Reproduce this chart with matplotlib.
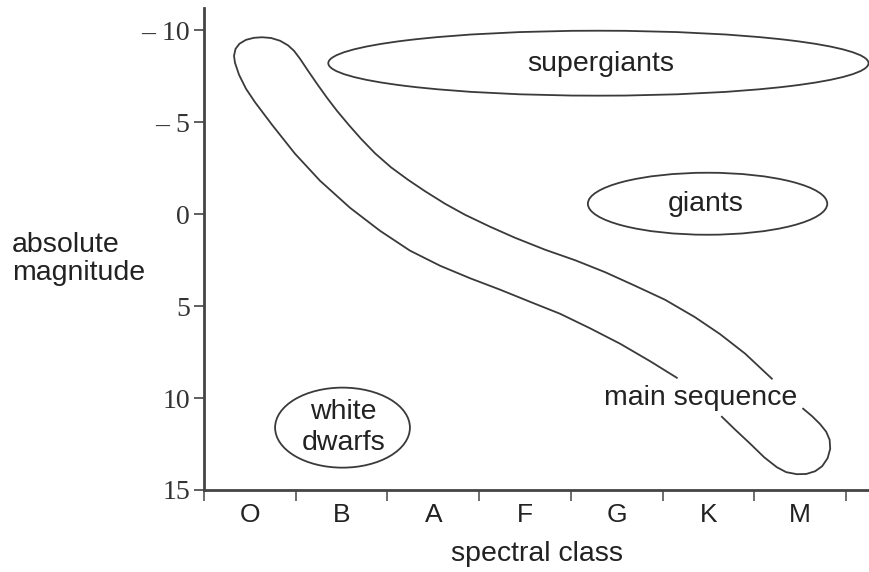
import matplotlib
matplotlib.use("Agg")
import matplotlib.pyplot as plt
from matplotlib.patches import Ellipse

# ---------------- data ----------------
classes = ["O", "B", "A", "F", "G", "K", "M"]
class_pos = [0, 1, 2, 3, 4, 5, 6]
class_bounds = [-0.5, 0.5, 1.5, 2.5, 3.5, 4.5, 5.5, 6.5]
mag_ticks = [-10, -5, 0, 5, 10, 15]
mag_labels = ["\u2013 10", "\u2013 5", "0", "5", "10", "15"]

# star regions (spectral-class position, absolute magnitude)
region_names = ["supergiants", "giants", "white\ndwarfs"]
region_cx = [3.80, 4.99, 1.01]
region_cy = [-8.20, -0.56, 11.61]
region_w = [5.89, 2.61, 1.47]
region_h = [3.53, 3.37, 4.35]
region_lx = [3.82, 4.97, 1.02]
region_ly = [-8.17, -0.56, 11.58]

# main sequence outline (two pieces, gap for the label)
ms_a_x = [4.655, 4.364, 4.037, 3.709, 3.382, 3.055, 2.728, 2.401, 2.074, 1.746,
          1.419, 1.092, 0.765, 0.492, 0.242, 0.056, -0.042, -0.118, -0.162, -0.173,
          -0.156, -0.113, -0.042, 0.045, 0.132, 0.231, 0.329, 0.416, 0.481, 0.547,
          0.634, 0.732, 0.841, 0.950, 1.081, 1.212, 1.365, 1.539, 1.725, 1.910,
          2.128, 2.346, 2.619, 2.891, 3.219, 3.546, 3.873, 4.200, 4.527, 4.854,
          5.127, 5.400, 5.691]
ms_a_y = [8.90, 8.00, 7.05, 6.21, 5.42, 4.77, 4.11, 3.49, 2.81, 1.99,
          0.91, -0.34, -1.81, -3.28, -4.85, -6.08, -6.81, -7.57, -8.22, -8.60,
          -8.98, -9.26, -9.47, -9.58, -9.61, -9.57, -9.42, -9.17, -8.875, -8.44,
          -7.79, -7.08, -6.32, -5.61, -4.83, -4.09, -3.30, -2.54, -1.86, -1.24,
          -0.56, 0.04, 0.69, 1.29, 1.94, 2.51, 3.16, 3.90, 4.66, 5.61,
          6.53, 7.59, 8.95]
ms_b_x = [5.146, 5.291, 5.454, 5.607, 5.745, 5.847, 5.963, 6.065, 6.163, 6.239,
          6.299, 6.327, 6.321, 6.283, 6.217, 6.130, 6.032]
ms_b_y = [11.02, 11.72, 12.48, 13.22, 13.76, 14.03, 14.14, 14.13, 13.98, 13.71,
          13.27, 12.76, 12.27, 11.83, 11.42, 10.99, 10.58]
ms_label = "main sequence"
ms_lx, ms_ly = 4.91, 9.98

# ---------------- drawing ----------------
W, H = 869, 572
fig = plt.figure(figsize=(W / 100, H / 100), dpi=100)
ax = fig.add_axes([204 / W, 1 - 490 / H, 1 - 204 / W, (490 - 8) / H])

line_col = "#3a3a3a"
txt_col = "#222222"
sans = "Liberation Sans"
serif = "Liberation Serif"

ax.set_xlim(-0.5, 6.75)
ax.set_ylim(15, -11.2)

for s in ["top", "right"]:
    ax.spines[s].set_visible(False)
for s in ["left", "bottom"]:
    ax.spines[s].set_color("#444444")
    ax.spines[s].set_linewidth(2.0)

ax.set_yticks(mag_ticks)
ax.set_yticklabels(mag_labels, family=serif, fontsize=20, color="#333333")
ax.tick_params(axis="y", direction="out", length=7, width=1.2, color="#444444", pad=3)

ax.set_xticks(class_pos)
ax.set_xticklabels(classes, family=sans, fontsize=19, color=txt_col)
ax.tick_params(axis="x", which="major", length=0, pad=9)
ax.set_xticks(class_bounds, minor=True)
ax.tick_params(axis="x", which="minor", direction="out", length=8, width=1.2, color="#555555")

for cx, cy, w, h, name, lx, ly in zip(region_cx, region_cy, region_w, region_h,
                                       region_names, region_lx, region_ly):
    ax.add_patch(Ellipse((cx, cy), w, h, fill=False, edgecolor=line_col, linewidth=1.3))
    ax.text(lx, ly, name, ha="center", va="center", family=sans, fontsize=20.5,
            color=txt_col, linespacing=1.25)

ax.plot(ms_a_x, ms_a_y, color=line_col, linewidth=1.3, solid_joinstyle="round")
ax.plot(ms_b_x, ms_b_y, color=line_col, linewidth=1.3, solid_joinstyle="round")
ax.text(ms_lx, ms_ly, ms_label, ha="center", va="center", family=sans, fontsize=20.5,
        color=txt_col)

fig.text(12 / W, 1 - 259 / H, "absolute\nmagnitude", ha="left", va="center",
         family=sans, fontsize=20.5, color=txt_col, linespacing=1.12)
fig.text(537 / W, 1 - 554 / H, "spectral class", ha="center", va="center",
         family=sans, fontsize=20.5, color=txt_col)

fig.savefig("out.png", dpi=100)
